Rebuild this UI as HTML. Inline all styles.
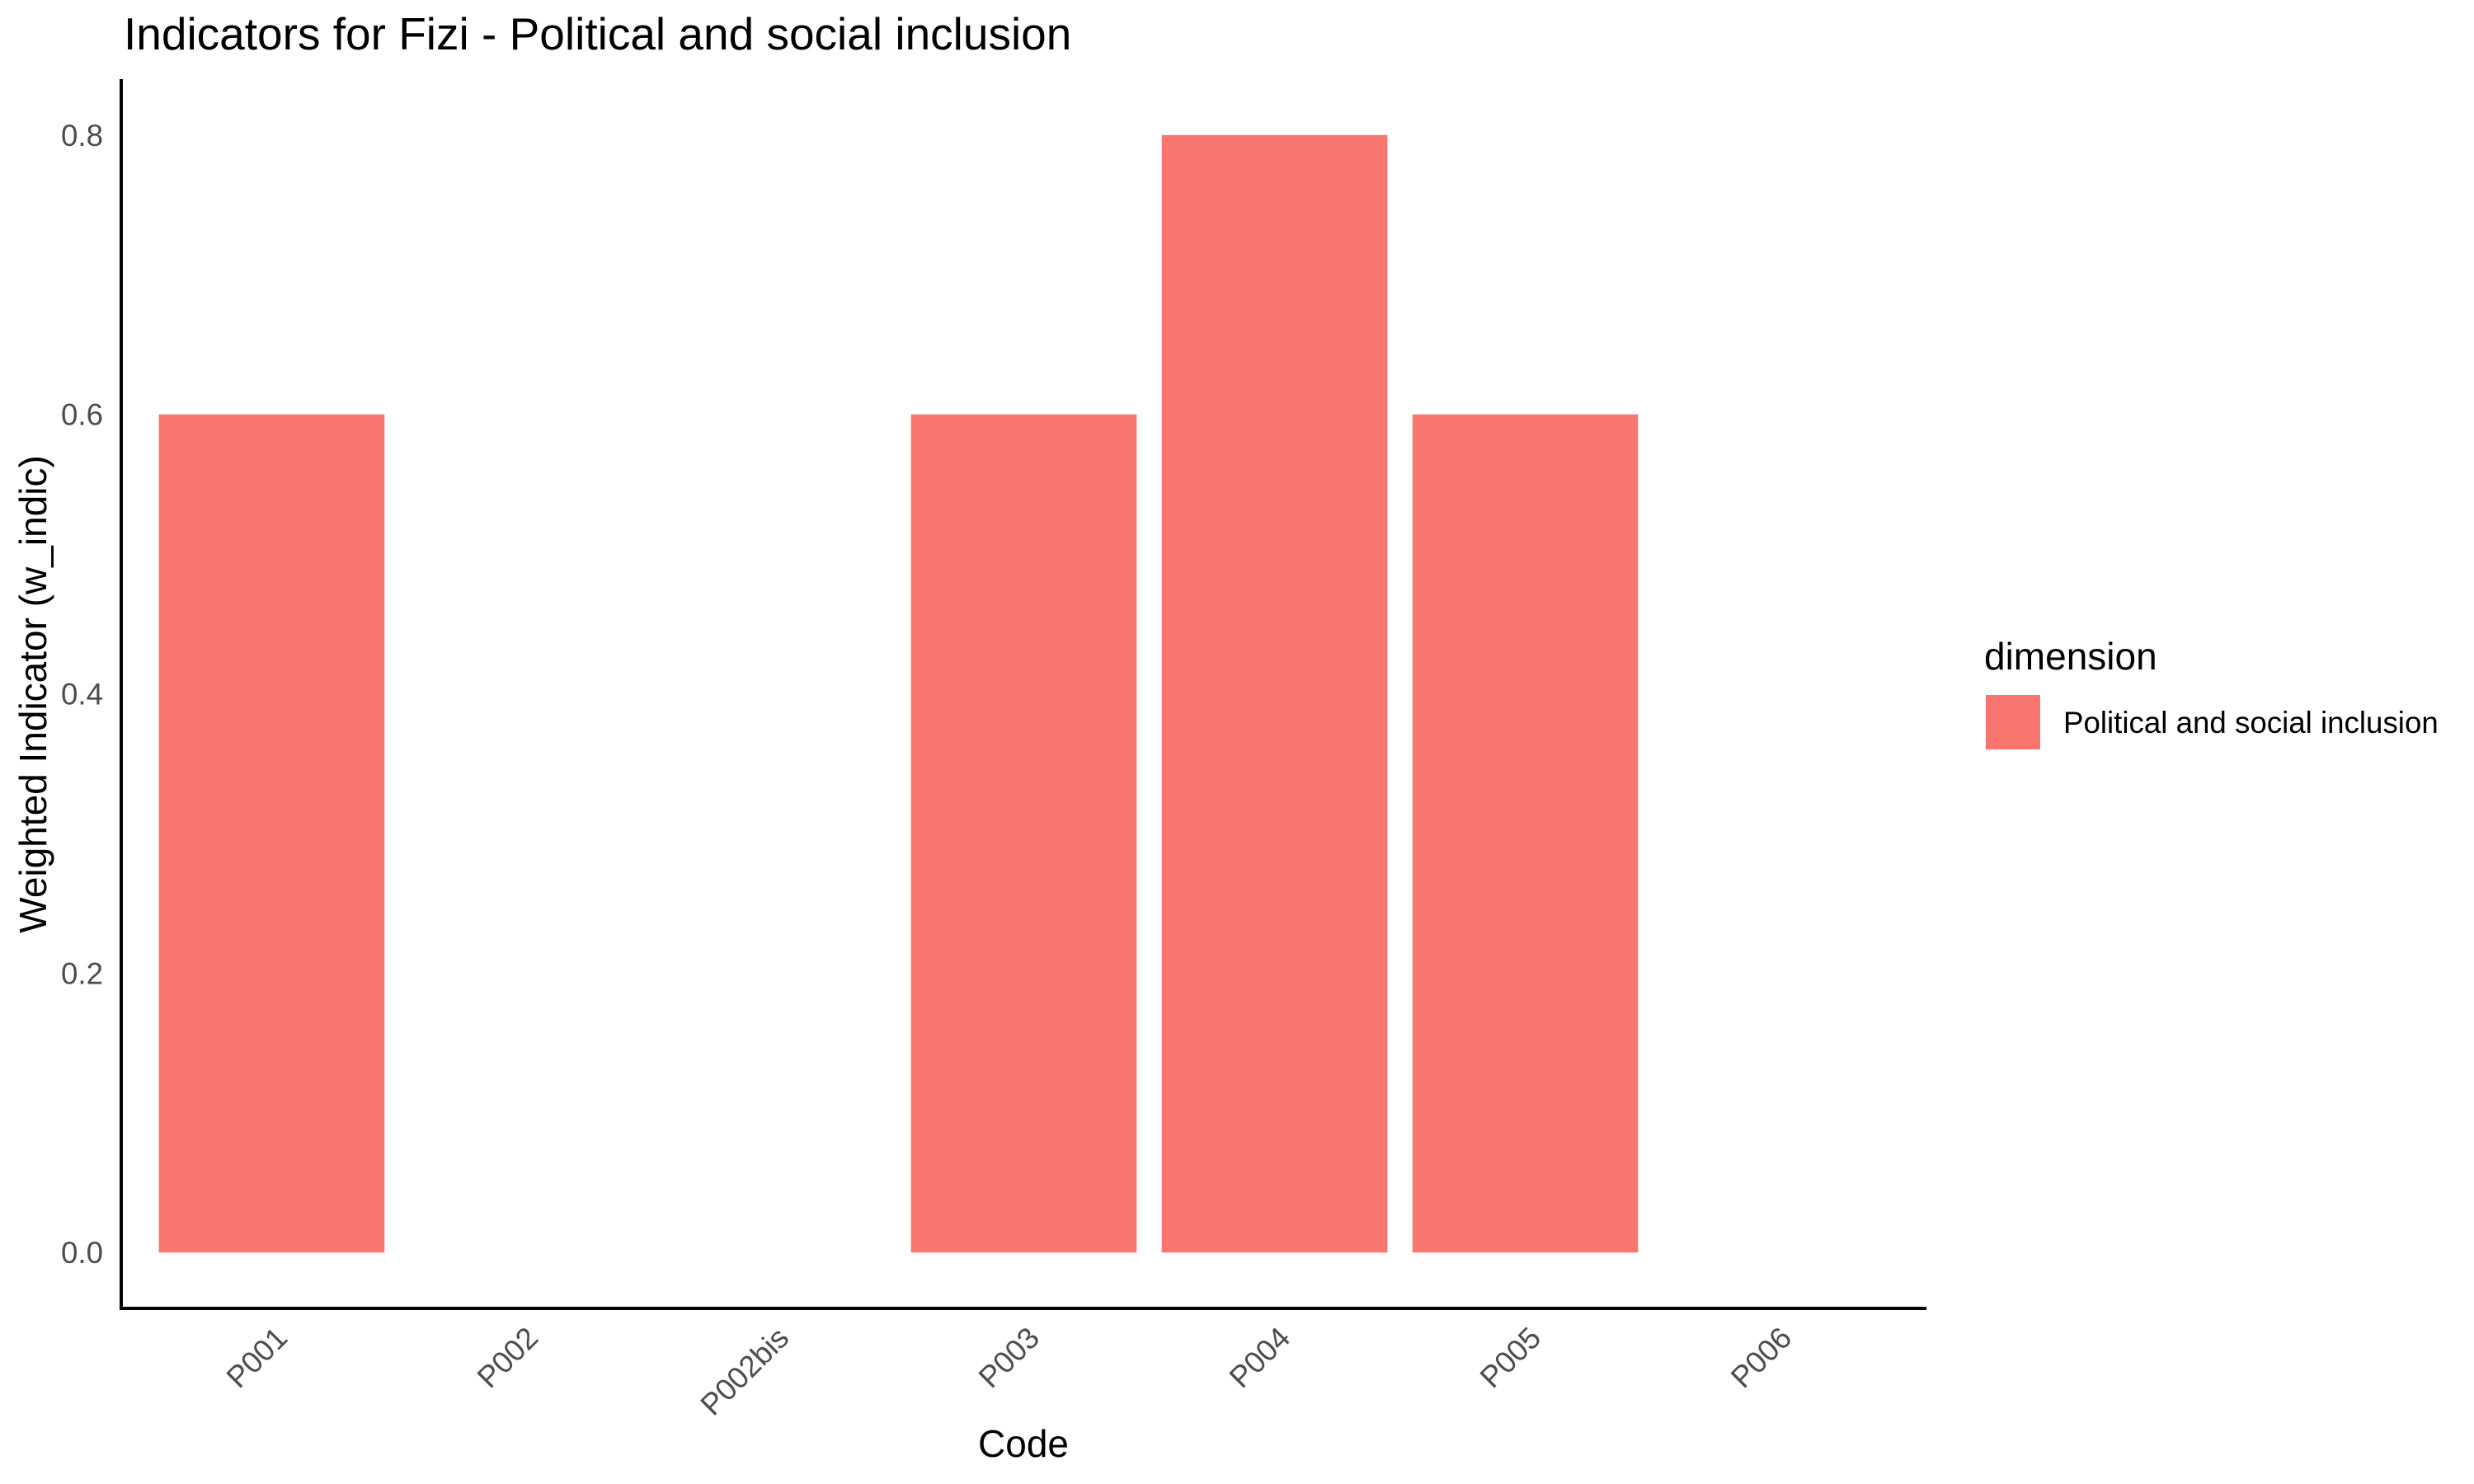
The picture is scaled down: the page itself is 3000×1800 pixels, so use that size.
<!DOCTYPE html>
<html><head><meta charset="utf-8"><style>
html,body{margin:0;padding:0;background:#fff;}
svg{display:block;font-family:"Liberation Sans",Arial,sans-serif;}
</style></head><body>
<svg id="chart" width="3000" height="1800" viewBox="0 0 3000 1800" xmlns="http://www.w3.org/2000/svg">
<rect width="3000" height="1800" fill="#fff"/>
<text x="150" y="60" font-size="55" fill="#000">Indicators for Fizi - Political and social inclusion</text>
<g id="bars"></g>
<g id="yticks"></g>
<g id="xticks"></g>
<line x1="147" y1="96" x2="147" y2="1588" stroke="#000" stroke-width="4"/>
<line x1="145" y1="1587" x2="2336" y2="1587" stroke="#000" stroke-width="4"/>
<text x="1241" y="1767" font-size="46" text-anchor="middle" fill="#000">Code</text>
<text transform="translate(56,842) rotate(-90)" font-size="46" text-anchor="middle" fill="#000">Weighted Indicator (w_indic)</text>
<g>
<text x="2406" y="812" font-size="46" fill="#000">dimension</text>
<rect x="2408" y="843" width="66" height="66" fill="#F8766D"/>
<text x="2502" y="889" font-size="36.7" fill="#000">Political and social inclusion</text>
</g>
</svg>
<script>
const categories = ["P001","P002","P002bis","P003","P004","P005","P006"];
const values = [0.6, 0, 0, 0.6, 0.8, 0.6, 0];
const yTicks = [0.0, 0.2, 0.4, 0.6, 0.8];
const yTickLabels = ["0.0","0.2","0.4","0.6","0.8"];

const NS = "http://www.w3.org/2000/svg";
const plotLeft = 147, plotRight = 2336, plotTop = 96, plotBottom = 1587;
const yMin = -0.04, yMax = 0.84;
function yScale(v){ return plotBottom - (v - yMin) / (yMax - yMin) * (plotBottom - plotTop); }
const unit = (plotRight - plotLeft) / (categories.length - 1 + 1.2);
function xScale(i){ return plotLeft + (0.6 + i) * unit; }
const barW = unit * 0.9;

const bars = document.getElementById('bars');
categories.forEach((c, i) => {
  if (values[i] === 0) return;
  const r = document.createElementNS(NS, 'rect');
  
  
  const y1 = yScale(values[i]), y0 = yScale(0);
  r.setAttribute('x', xScale(i) - barW / 2);
  r.setAttribute('y', y1);
  r.setAttribute('width', barW);
  r.setAttribute('height', y0 - y1);
  r.setAttribute('fill', '#F8766D');
  bars.appendChild(r);
});

const yt = document.getElementById('yticks');
yTicks.forEach((v, i) => {
  const t = document.createElementNS(NS, 'text');
  
  
  t.setAttribute('x', 125);
  t.setAttribute('y', yScale(v) + 13);
  t.setAttribute('text-anchor', 'end');
  t.setAttribute('font-size', '36.7');
  t.setAttribute('fill', '#4d4d4d');
  t.textContent = yTickLabels[i];
  yt.appendChild(t);
});

const xt = document.getElementById('xticks');
categories.forEach((c, i) => {
  const t = document.createElementNS(NS, 'text');
  
  
  const ax = xScale(i) + 2, ay = 1606;
  t.setAttribute('transform', 'translate(' + ax + ',' + ay + ') rotate(-45)');
  t.setAttribute('text-anchor', 'end');
  t.setAttribute('dy', '27');
  t.setAttribute('font-size', '36.7');
  t.setAttribute('fill', '#4d4d4d');
  t.textContent = c;
  xt.appendChild(t);
});
</script>
</body></html>
